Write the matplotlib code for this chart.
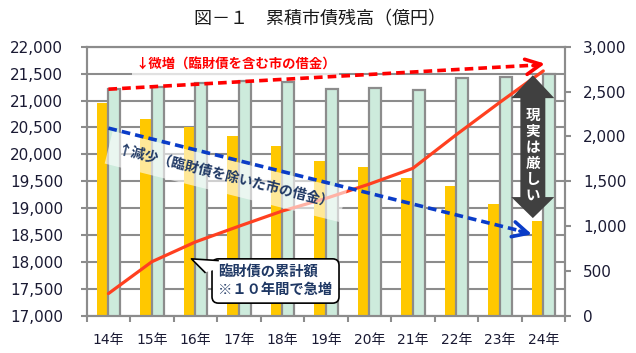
import matplotlib
matplotlib.use('Agg')
import matplotlib.pyplot as plt
from matplotlib.patches import Polygon
from matplotlib.ticker import FuncFormatter, FixedLocator
from matplotlib.lines import Line2D

plt.rcParams['font.family'] = ['DejaVu Sans', 'Noto Sans CJK JP']

# ---- data ----
years = ['14年', '15年', '16年', '17年', '18年', '19年', '20年', '21年', '22年', '23年', '24年']
debt_excl = [20950, 20655, 20500, 20340, 20160, 19880, 19770, 19555, 19415, 19078, 18768]   # 臨財債を除く
debt_incl = [21206, 21254, 21329, 21366, 21347, 21206, 21240, 21190, 21410, 21440, 21500]   # 臨財債を含む
rinzai_cum = [250, 605, 825, 1000, 1170, 1310, 1470, 1645, 2020, 2380, 2730]               # 臨財債の累計額
left_ticks = [17000, 17500, 18000, 18500, 19000, 19500, 20000, 20500, 21000, 21500, 22000]
right_ticks = [0, 500, 1000, 1500, 2000, 2500, 3000]

GRID = '#8c8c8c'
ORANGE = '#FFC800'
GREEN = '#CDEBDC'
LINE = '#FF4020'
NAVY = '#1F3864'
LABEL = '#1a1a33'

fig = plt.figure(figsize=(6.36, 3.53), dpi=100)
ax = fig.add_axes([0.1363, 0.1048, 0.7521, 0.7629])
ax2 = ax.twinx()

x = list(range(len(years)))
w = 0.27
ax.bar([i - w / 2 for i in x], debt_excl, width=w, color=ORANGE, zorder=2)
ax.bar([i + w / 2 for i in x], debt_incl, width=w, color=GREEN, edgecolor=GRID, linewidth=1.6, zorder=2)

ax.set_xlim(-0.5, len(years) - 0.5)
ax.set_ylim(left_ticks[0], left_ticks[-1])
ax.yaxis.set_major_locator(FixedLocator(left_ticks))
ax.yaxis.set_major_formatter(FuncFormatter(lambda v, p: f'{int(v):,}'))
ax.yaxis.grid(True, color=GRID, linewidth=1.5, zorder=0)
ax.set_axisbelow(True)

ax.xaxis.set_major_locator(FixedLocator([i - 0.5 for i in range(len(years) + 1)]))
ax.xaxis.set_major_formatter(FuncFormatter(lambda v, p: ''))
ax.xaxis.set_minor_locator(FixedLocator(x))
ax.set_xticklabels(years, minor=True)
ax.tick_params(axis='x', which='major', length=4, width=1.5, color=GRID)
ax.tick_params(axis='x', which='minor', length=0, pad=12, labelsize=10, labelcolor=LABEL)
ax.tick_params(axis='y', length=4, width=1.5, color=GRID, pad=13, labelsize=11, labelcolor=LABEL)

ax2.plot(x, rinzai_cum, color=LINE, linewidth=2.3, zorder=3, solid_capstyle='round')
ax2.set_ylim(right_ticks[0], right_ticks[-1])
ax2.yaxis.set_major_locator(FixedLocator(right_ticks))
ax2.yaxis.set_major_formatter(FuncFormatter(lambda v, p: f'{int(v):,}'))
ax2.tick_params(axis='y', length=4, width=1.5, color=GRID, pad=9, labelsize=11, labelcolor=LABEL)

for a in (ax, ax2):
    for s in a.spines.values():
        s.set_color(GRID)
        s.set_linewidth(1.5)

T = ax.transData

# title
fig.text(0.503, 0.945, '図－１　累積市債残高（億円）', ha='center', va='center',
         fontsize=13, color='#1a1a1a', family=['Noto Sans CJK JP'])

# red trend text + dashed arrow
ax2.text(2.93, 21675, '↓微増（臨財債を含む市の借金）', transform=T, ha='center', va='center',
         fontsize=9.6, fontweight='bold', color='#FF0000', family=['Noto Sans CJK JP'], zorder=5,
         bbox=dict(boxstyle='square,pad=0.25', fc=(1, 1, 1, 0.75), ec='none'))
ax2.add_line(Line2D([0, 9.85], [21211, 21660], transform=T, color='#FF0000', linewidth=2.6,
                    dashes=(2.4, 1.4), zorder=6))
ax2.annotate('', xy=(10.1, 21694), xytext=(9.7, 21640), xycoords=T, textcoords=T,
             arrowprops=dict(arrowstyle='->,head_length=1.1,head_width=0.55', color='#FF0000', lw=2.6),
             zorder=6)

# blue trend text + dashed arrow
ax2.text(2.7, 19590, '↑減少（臨財債を除いた市の借金）', transform=T, ha='center', va='center',
         rotation=-14, rotation_mode='anchor',
         fontsize=10, fontweight='bold', color=NAVY, family=['Noto Sans CJK JP'], zorder=5,
         bbox=dict(boxstyle='square,pad=0.7', fc=(1, 1, 1, 0.6), ec='none'))
ax2.add_line(Line2D([0, 9.55], [20488, 18565], transform=T, color='#0A3CC8', linewidth=2.6,
                    dashes=(2.4, 1.4), zorder=6))
ax2.annotate('', xy=(9.8, 18503), xytext=(9.4, 18590), xycoords=T, textcoords=T,
             arrowprops=dict(arrowstyle='->,head_length=1.1,head_width=0.55', color='#0A3CC8', lw=2.6),
             zorder=6)

# callout
ax2.text(2.53, 17650, '臨財債の累計額\n※１０年間で急増', transform=T, ha='left', va='center',
         fontsize=10.3, fontweight='bold', color=NAVY, family=['Noto Sans CJK JP'], linespacing=1.3,
         zorder=7, bbox=dict(boxstyle='round,pad=0.45', fc='white', ec='black', lw=1.2))
tip = (1.91, 18061)
pa = (2.22, 17810)
pb = (2.52, 18030)
ax2.add_patch(Polygon([tip, pa, (2.45, 17860), pb], closed=True, transform=T, fc='white', ec='none', zorder=8))
ax2.add_line(Line2D([pa[0], tip[0], pb[0]], [pa[1], tip[1], pb[1]], transform=T, color='black',
                    linewidth=1.2, zorder=9))

# double block arrow "現実は厳しい"
xc, sh, hh = 9.76, 0.287, 0.494
yt, ytb, ybb, yb = 21471, 21045, 19208, 18818
verts = [(xc, yt), (xc + hh, ytb), (xc + sh, ytb), (xc + sh, ybb), (xc + hh, ybb), (xc, yb),
         (xc - hh, ybb), (xc - sh, ybb), (xc - sh, ytb), (xc - hh, ytb)]
ax2.add_patch(Polygon(verts, closed=True, transform=T, fc='#404040', ec='none', zorder=9))
ax2.text(xc, 19990, '現\n実\nは\n厳\nし\nい', transform=T, ha='center', va='center',
         fontsize=10.5, fontweight='bold', color='white', family=['Noto Sans CJK JP'],
         linespacing=1.0, zorder=10)

fig.savefig('out.png', dpi=100, facecolor='white')
